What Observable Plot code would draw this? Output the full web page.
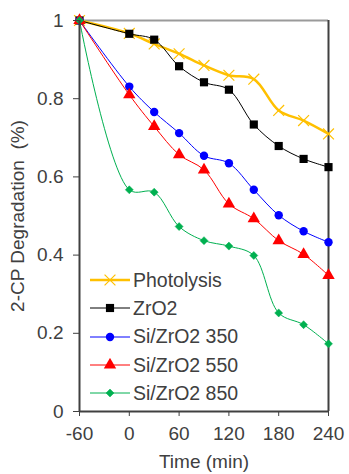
<!DOCTYPE html>
<html><head><meta charset="utf-8">
<script src="https://cdn.jsdelivr.net/npm/d3@7"></script>
<script src="https://cdn.jsdelivr.net/npm/@observablehq/plot@0.6"></script>
<style>
body{margin:0;background:#fff;font-family:"Liberation Sans",Arial,sans-serif;}
#wrap{position:relative;width:349px;height:474px;}
#legend{position:absolute;left:89px;top:266px;}
.row{display:flex;align-items:center;height:28.3px;font-size:19.5px;color:#404040;}
.row svg{margin-right:2px;}
</style></head><body><div id="wrap"><div id="legend"></div></div>
<script>
const times = [-60, 0, 30, 60, 90, 120, 150, 180, 210, 240];
const photolysis = [1, 0.967, 0.94, 0.915, 0.885, 0.86, 0.85, 0.77, 0.744, 0.71];
const zro2 = [1, 0.966, 0.951, 0.883, 0.842, 0.823, 0.734, 0.679, 0.646, 0.625];
const si350 = [1, 0.831, 0.766, 0.712, 0.654, 0.635, 0.567, 0.502, 0.461, 0.433];
const si550 = [1, 0.81, 0.729, 0.657, 0.618, 0.531, 0.493, 0.437, 0.402, 0.348];
const si850 = [1, 0.567, 0.561, 0.473, 0.437, 0.423, 0.399, 0.252, 0.222, 0.173];
const seriesNames = ["Photolysis", "ZrO2", "Si/ZrO2 350", "Si/ZrO2 550", "Si/ZrO2 850"];
const xTicks = [-60, 0, 60, 120, 180, 240];
const yTicks = [0, 0.2, 0.4, 0.6, 0.8, 1];

const seriesValues = [photolysis, zro2, si350, si550, si850];
const styles = [
  {color: "#FFC000", symbol: "times", r: 5, lw: 2.5, fill: "none", sw: 1.2},
  {color: "#000000", symbol: "square", r: 4.6, lw: 1, fill: "#000000", sw: 0},
  {color: "#0000FF", symbol: "circle", r: 4.2, lw: 1, fill: "#0000FF", sw: 0},
  {color: "#FF0000", symbol: "triangle", r: 4.6, lw: 1, fill: "#FF0000", sw: 0},
  {color: "#00B050", symbol: "diamond2", r: 3.6, lw: 1, fill: "#00B050", sw: 0.5}
];

const marks = [
  Plot.ruleY([1], {stroke: "#9a9a9a", strokeWidth: 2}),
  Plot.ruleX([240], {stroke: "#404040", strokeWidth: 2}),
];
seriesNames.forEach((name, i) => {
  const data = times.map((t, j) => ({t, v: seriesValues[i][j]}));
  const s = styles[i];
  marks.push(Plot.line(data, {x: "t", y: "v", stroke: s.color, strokeWidth: s.lw, curve: "catmull-rom"}));
  marks.push(Plot.dot(data, {x: "t", y: "v", symbol: () => s.symbol, r: s.r, fill: s.fill, stroke: s.color, strokeWidth: s.sw}));
});
marks.push(
  Plot.ruleY([0], {stroke: "#404040", strokeWidth: 2}),
  Plot.ruleX([-60], {stroke: "#404040", strokeWidth: 2}),
  Plot.axisX({ticks: xTicks, tickSize: 5, tickPadding: 10, fontSize: 19, tickFormat: d => String(d), label: "Time (min)", labelAnchor: "center", labelArrow: "none", labelOffset: 56, color: "#404040"}),
  Plot.axisY({ticks: yTicks, tickSize: 6, tickPadding: 10, fontSize: 19, tickFormat: d => String(d), label: "2-CP Degradation\u00a0 (%)", labelAnchor: "center", labelArrow: "none", labelOffset: 69, color: "#404040"})
);

const chart = Plot.plot({
  width: 349, height: 474,
  marginLeft: 79, marginRight: 21, marginTop: 20, marginBottom: 63,
  style: {fontFamily: "Liberation Sans, Arial, sans-serif", fontSize: "19px", color: "#404040", background: "#fff"},
  x: {domain: [-60, 240]},
  y: {domain: [0, 1]},
  symbol: {type: "identity"},
  marks
});
document.getElementById("wrap").prepend(chart);

// legend
const lg = d3.select("#legend");
const symMap = {times: d3.symbolTimes, square: d3.symbolSquare, circle: d3.symbolCircle, triangle: d3.symbolTriangle, diamond2: d3.symbolDiamond2};
seriesNames.forEach((name, i) => {
  const s = styles[i];
  const row = lg.append("div").attr("class", "row");
  const svg = row.append("svg").attr("width", 42).attr("height", 14);
  svg.append("line").attr("x1", 1).attr("x2", 41).attr("y1", 7).attr("y2", 7).attr("stroke", s.color).attr("stroke-width", s.lw);
  svg.append("path").attr("transform", "translate(21,7)")
    .attr("d", d3.symbol(symMap[s.symbol], Math.PI * s.r * s.r)())
    .attr("fill", s.fill).attr("stroke", s.color).attr("stroke-width", s.sw);
  row.append("span").text(name);
});
</script></body></html>
